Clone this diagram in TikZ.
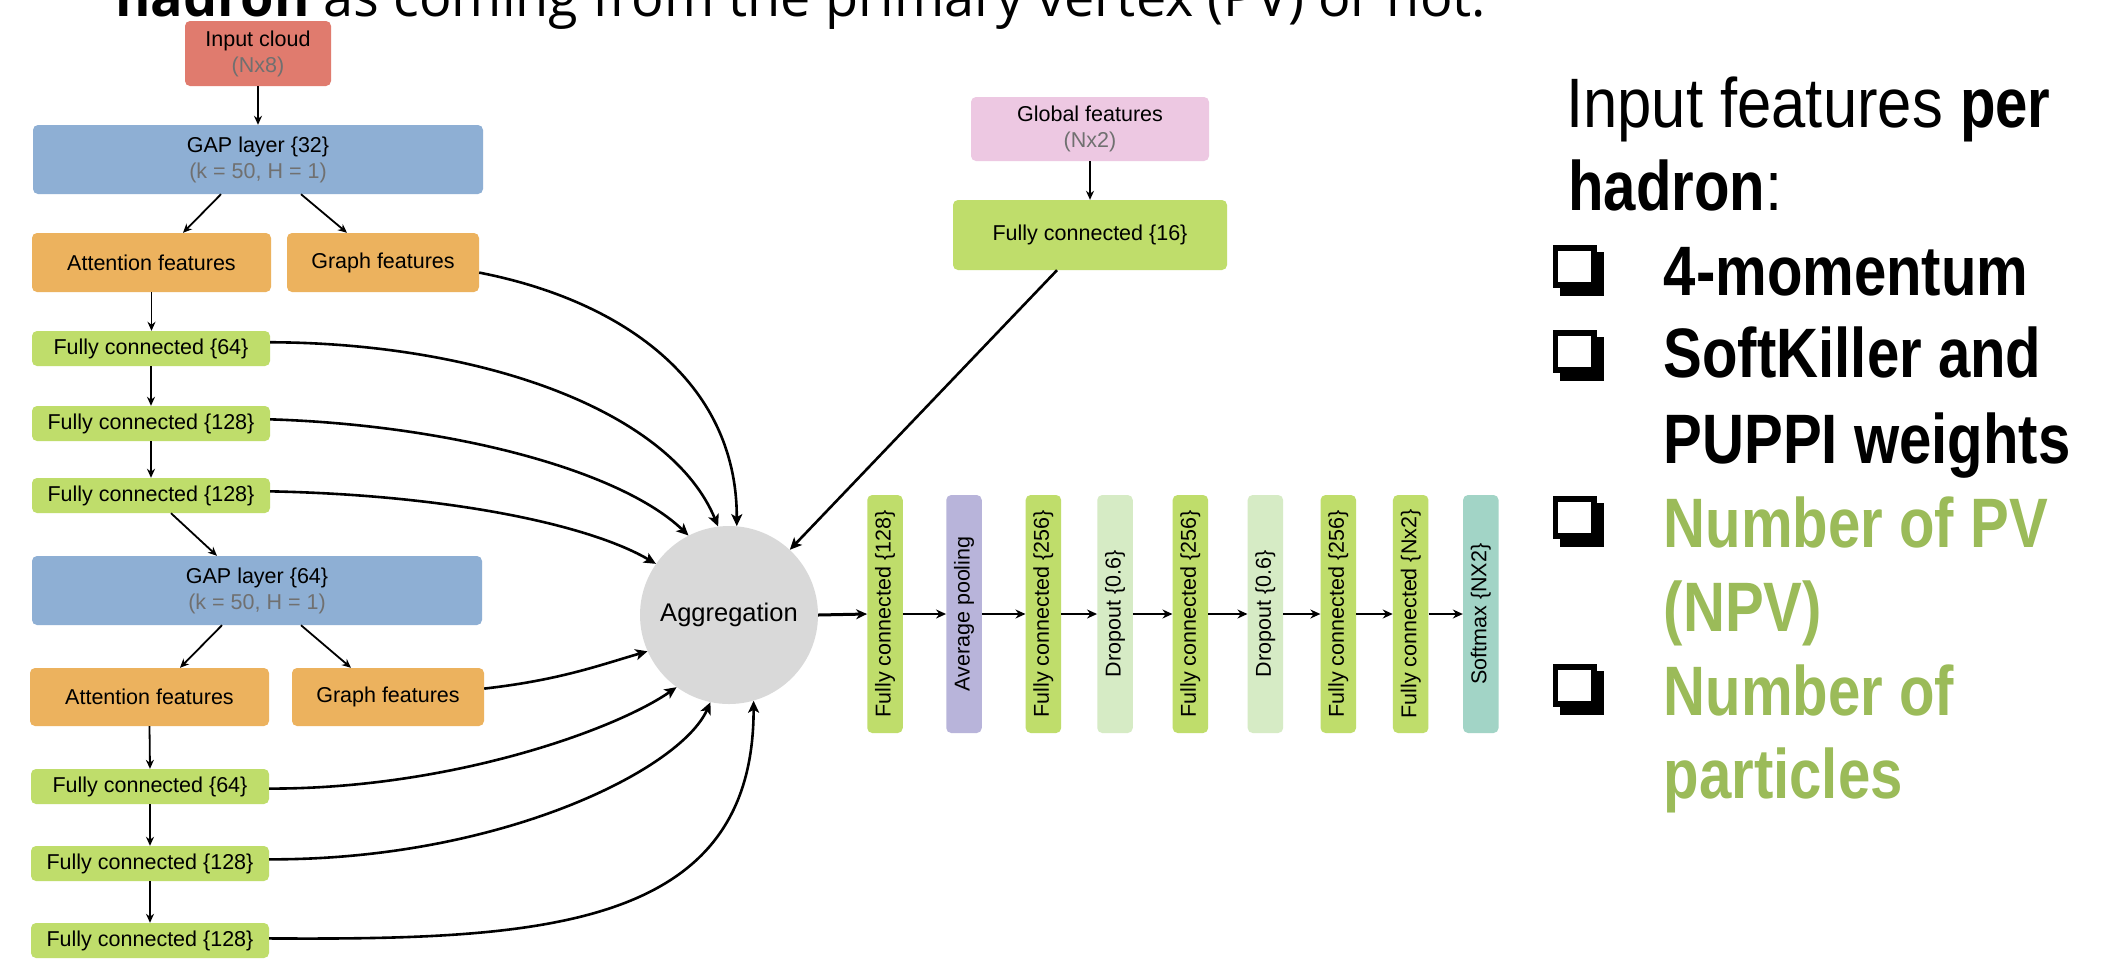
\documentclass[tikz,border=0pt]{standalone}
\usepackage{fontspec}
\setmainfont{Liberation Sans}
\newfontfamily\rfont[FakeStretch=0.88,BoldFeatures={FakeStretch=0.83}]{Liberation Sans}
\newfontfamily\tfont{Open Sans}
\usetikzlibrary{arrows.meta,calc}
\definecolor{cred}{HTML}{E07B6E}
\definecolor{cblue}{HTML}{8EAFD4}
\definecolor{corange}{HTML}{ECB25E}
\definecolor{cgreen}{HTML}{BFDD6B}
\definecolor{cpink}{HTML}{EDC8E2}
\definecolor{cpurple}{HTML}{B8B4DA}
\definecolor{clgreen}{HTML}{D6EBC5}
\definecolor{cteal}{HTML}{A2D4C6}
\definecolor{cgrey}{HTML}{D9D9D9}
\definecolor{ctxtgrey}{HTML}{707070}
\definecolor{cgtext}{HTML}{9BBB59}
\tikzset{
  box/.style={rounded corners=5pt, inner sep=0pt, align=center, font=\fontsize{21.5}{26}\selectfont},
  hbox/.style={box, minimum width=238pt, minimum height=35pt, fill=cgreen},
  vbox/.style={box, minimum width=35.5pt, minimum height=238pt},
  sarr/.style={line width=1.8pt, -{Stealth[length=9pt,width=8pt]}},
  parr/.style={line width=2pt, -{Stealth[length=10pt,width=9pt]}},
  carr/.style={line width=2.6pt, -{Stealth[length=12pt,width=11pt,inset=3pt]}},
  rtext/.style={anchor=base west, inner sep=0pt, font=\rfont\fontsize{70}{84}\selectfont},
  cbox/.pic={\fill (7.5,7) rectangle (51.5,51); \fill (0,0) rectangle (44,43); \fill[white] (5.5,6) rectangle (38.5,37);}
}
\begin{document}
\begin{tikzpicture}[x=1pt,y=-1pt]
\useasboundingbox (0,0) rectangle (2120,962);
\fill[white] (0,0) rectangle (2120,962);
\clip (0,0) rectangle (2120,962);
% title (cut off at top)
\node[anchor=base west, inner sep=0pt, font=\tfont\fontsize{54}{64}\selectfont] (title) at (115,16) {\textbf{hadron} as coming from the primary vertex (PV) or not.};
% left column
\node[box, fill=cred, minimum width=146pt, minimum height=65pt] (in) at (258,53.5) {Input cloud\\{\color{ctxtgrey}(Nx8)}};
\node[box, fill=cblue, minimum width=450pt, minimum height=69pt] (gap1) at (258,159.5) {GAP layer \{32\}\\{\color{ctxtgrey}(k = 50, H = 1)}};
\node[box, fill=corange, minimum width=239pt, minimum height=59pt] (att1) at (151.5,262.5) {Attention features};
\node[box, fill=corange, minimum width=192pt, minimum height=59pt] (gf1) at (383,262.5) {Graph features};
\node[hbox] (fc1) at (151,348.5) {Fully connected \{64\}};
\node[hbox] (fc2) at (151,423.5) {Fully connected \{128\}};
\node[hbox] (fc3) at (151,495.5) {Fully connected \{128\}};
\node[box, fill=cblue, minimum width=450pt, minimum height=69pt] (gap2) at (257,590.5) {GAP layer \{64\}\\{\color{ctxtgrey}(k = 50, H = 1)}};
\node[box, fill=corange, minimum width=239pt, minimum height=58pt] (att2) at (149.5,697) {Attention features};
\node[box, fill=corange, minimum width=192pt, minimum height=58pt] (gf2) at (388,697) {Graph features};
\node[hbox] (fc4) at (150,786.5) {Fully connected \{64\}};
\node[hbox] (fc5) at (150,863.5) {Fully connected \{128\}};
\node[hbox] (fc6) at (150,940.5) {Fully connected \{128\}};
% aggregation
\node[circle, fill=cgrey, minimum size=178pt, inner sep=0pt, font=\fontsize{25.5}{30}\selectfont] (agg) at (729,615) {Aggregation};
% global branch
\node[box, fill=cpink, minimum width=238pt, minimum height=64pt] (glob) at (1090,129) {Global features\\{\color{ctxtgrey}(Nx2)}};
\node[box, fill=cgreen, minimum width=274pt, minimum height=70pt] (fc16) at (1090,235) {Fully connected \{16\}};
% pipeline
\node[vbox, fill=cgreen] (v1) at (885,614) {\rotatebox{90}{Fully connected \{128\}}};
\node[vbox, fill=cpurple] (v2) at (964,614) {\rotatebox{90}{Average pooling}};
\node[vbox, fill=cgreen] (v3) at (1043.4,614) {\rotatebox{90}{Fully connected \{256\}}};
\node[vbox, fill=clgreen] (v4) at (1115,614) {\rotatebox{90}{Dropout \{0.6\}}};
\node[vbox, fill=cgreen] (v5) at (1190.4,614) {\rotatebox{90}{Fully connected \{256\}}};
\node[vbox, fill=clgreen] (v6) at (1265.4,614) {\rotatebox{90}{Dropout \{0.6\}}};
\node[vbox, fill=cgreen] (v7) at (1338.3,614) {\rotatebox{90}{Fully connected \{256\}}};
\node[vbox, fill=cgreen] (v8) at (1410.7,614) {\rotatebox{90}{Fully connected \{Nx2\}}};
\node[vbox, fill=cteal] (v9) at (1480.8,614) {\rotatebox{90}{Softmax \{NX2\}}};
% left column arrows
\draw[sarr] (in.south) -- (gap1.north);
\draw[sarr] ([xshift=-37pt]gap1.south) -- ([xshift=31.5pt]att1.north);
\draw[sarr] ([xshift=43pt]gap1.south) -- ([xshift=-36pt]gf1.north);
\draw[sarr] (att1.south) -- (att1.south |- fc1.north);
\draw[sarr] (fc1.south) -- (fc2.north);
\draw[sarr] (fc2.south) -- (fc3.north);
\draw[sarr] ([xshift=20pt]fc3.south) -- ([xshift=-40pt]gap2.north);
\draw[sarr] ([xshift=-35pt]gap2.south) -- ([xshift=30.5pt]att2.north);
\draw[sarr] ([xshift=44pt]gap2.south) -- ([xshift=-37pt]gf2.north);
\draw[sarr] (att2.south) -- (fc4.north);
\draw[sarr] (fc4.south) -- (fc5.north);
\draw[sarr] (fc5.south) -- (fc6.north);
% curves into aggregation
\draw[carr] (gf1.-6) .. controls (620,300) and (737,380) .. (agg.85);
\draw[carr] (fc1.3) .. controls (480,343) and (670,410) .. (agg.97);
\draw[carr] (fc2.2) .. controls (450,425) and (620,470) .. (agg.117);
\draw[carr] (fc3.2) .. controls (450,495) and (590,525) .. (agg.145);
\draw[carr] (gf2.5) .. controls (560,680) and (600,665) .. (agg.204);
\draw[carr] (fc4.-1) .. controls (450,789) and (615,730) .. (agg.234);
\draw[carr] (fc5.2) .. controls (500,860) and (680,770) .. (agg.258);
\draw[carr] (fc6.1) .. controls (540,940) and (754,930) .. (agg.286);
% global arrows
\draw[sarr] (glob.south) -- (fc16.north);
\draw[carr] ([xshift=-33pt]fc16.south) -- (agg.47);
% pipeline arrows
\draw[line width=3pt, -{Stealth[length=11pt,width=10pt]}] (agg.east) -- (v1.west);
\draw[parr] (v1.east) -- (v2.west);
\draw[parr] (v2.east) -- (v3.west);
\draw[parr] (v3.east) -- (v4.west);
\draw[parr] (v4.east) -- (v5.west);
\draw[parr] (v5.east) -- (v6.west);
\draw[parr] (v6.east) -- (v7.west);
\draw[parr] (v7.east) -- (v8.west);
\draw[parr] (v8.east) -- (v9.west);
% right text
\node[rtext] (r1) at (1566,127) {Input features \textbf{per}};
\node[rtext] (r2) at (1568,210) {\textbf{hadron}:};
\node[rtext] (r3) at (1663.5,295) {\textbf{4-momentum}};
\node[rtext] (r4) at (1663.5,377) {\textbf{SoftKiller and}};
\node[rtext] (r5) at (1663.5,463) {\textbf{PUPPI weights}};
\node[rtext, text=cgtext] (r6) at (1663.5,547) {\textbf{Number of PV}};
\node[rtext, text=cgtext] (r7) at (1663.5,631) {\textbf{(NPV)}};
\node[rtext, text=cgtext] (r8) at (1663.5,715) {\textbf{Number of}};
\node[rtext, text=cgtext] (r9) at (1663.5,798) {\textbf{particles}};
\pic at (1552.5,245) {cbox};
\pic at (1552.5,330) {cbox};
\pic at (1552.5,496) {cbox};
\pic at (1552.5,664) {cbox};
\end{tikzpicture}
\end{document}
